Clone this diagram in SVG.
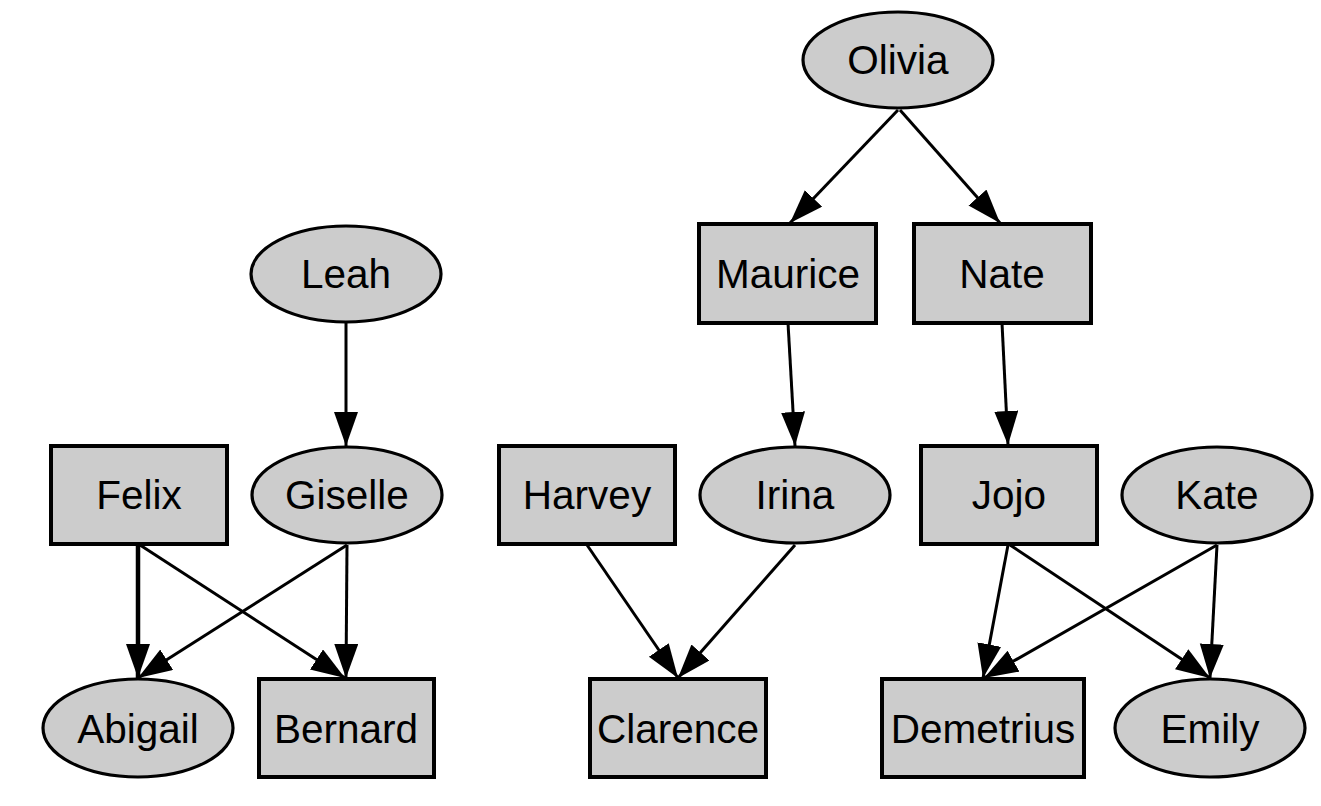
<svg xmlns="http://www.w3.org/2000/svg" width="1321" height="806" viewBox="0 0 1321 806">
<style>
.box{fill:#cccccc;stroke:#000;stroke-width:4}
.ell{fill:#cccccc;stroke:#000;stroke-width:3.2}
.lbl{font-family:"Liberation Sans",Arial,sans-serif;font-size:40.5px;fill:#000;text-anchor:middle;dominant-baseline:central}
.edge{stroke:#000;stroke-width:3;fill:none;marker-end:url(#ah)}
.thick{stroke-width:4.5}
</style>
<defs>
<marker id="ah" markerUnits="userSpaceOnUse" markerWidth="36" markerHeight="26" refX="34" refY="12" orient="auto">
<path d="M0,0 L34,12 L0,24 z" fill="#000"/>
</marker>
</defs>
<rect width="1321" height="806" fill="#fff"/>
<g id="connectors">
<line class="edge" x1="346" y1="322" x2="346" y2="446"/>
<line class="edge" x1="898" y1="110" x2="790" y2="223"/>
<line class="edge" x1="900" y1="110" x2="1000" y2="223"/>
<line class="edge" x1="788" y1="323" x2="795" y2="446"/>
<line class="edge" x1="1002" y1="323" x2="1008" y2="445"/>
<line class="edge thick" x1="138" y1="545" x2="138" y2="678"/>
<line class="edge" x1="140" y1="545" x2="345" y2="678"/>
<line class="edge" x1="347" y1="545" x2="138" y2="678"/>
<line class="edge" x1="347" y1="545" x2="346" y2="678"/>
<line class="edge" x1="587" y1="545" x2="678" y2="678"/>
<line class="edge" x1="795" y1="545" x2="678" y2="678"/>
<line class="edge" x1="1008" y1="545" x2="983" y2="678"/>
<line class="edge" x1="1010" y1="545" x2="1210" y2="678"/>
<line class="edge" x1="1217" y1="545" x2="984" y2="678"/>
<line class="edge" x1="1217" y1="545" x2="1210" y2="678"/>
</g>
<g id="Olivia"><ellipse class="ell" cx="898" cy="60" rx="95" ry="48"/><text class="lbl" x="898" y="60">Olivia</text></g>
<g id="Leah"><ellipse class="ell" cx="346" cy="274" rx="95" ry="48"/><text class="lbl" x="346" y="274">Leah</text></g>
<g id="Maurice"><rect class="box" x="699" y="224" width="177" height="99"/><text class="lbl" x="788" y="274">Maurice</text></g>
<g id="Nate"><rect class="box" x="914" y="224" width="177" height="99"/><text class="lbl" x="1002" y="274">Nate</text></g>
<g id="Felix"><rect class="box" x="51" y="446" width="176" height="98"/><text class="lbl" x="139" y="495">Felix</text></g>
<g id="Giselle"><ellipse class="ell" cx="347" cy="495" rx="95" ry="48"/><text class="lbl" x="347" y="495">Giselle</text></g>
<g id="Harvey"><rect class="box" x="499" y="446" width="176" height="98"/><text class="lbl" x="587" y="495">Harvey</text></g>
<g id="Irina"><ellipse class="ell" cx="795" cy="495" rx="95" ry="48"/><text class="lbl" x="795" y="495">Irina</text></g>
<g id="Jojo"><rect class="box" x="921" y="446" width="176" height="98"/><text class="lbl" x="1009" y="495">Jojo</text></g>
<g id="Kate"><ellipse class="ell" cx="1217" cy="495" rx="95" ry="48"/><text class="lbl" x="1217" y="495">Kate</text></g>
<g id="Abigail"><ellipse class="ell" cx="138" cy="728" rx="95" ry="49"/><text class="lbl" x="138" y="729">Abigail</text></g>
<g id="Bernard"><rect class="box" x="259" y="679" width="175" height="98"/><text class="lbl" x="346" y="729">Bernard</text></g>
<g id="Clarence"><rect class="box" x="590" y="679" width="176" height="98"/><text class="lbl" x="678" y="729">Clarence</text></g>
<g id="Demetrius"><rect class="box" x="882" y="679" width="202" height="98"/><text class="lbl" x="983" y="729">Demetrius</text></g>
<g id="Emily"><ellipse class="ell" cx="1210" cy="728" rx="95" ry="49"/><text class="lbl" x="1210" y="729">Emily</text></g>
</svg>
